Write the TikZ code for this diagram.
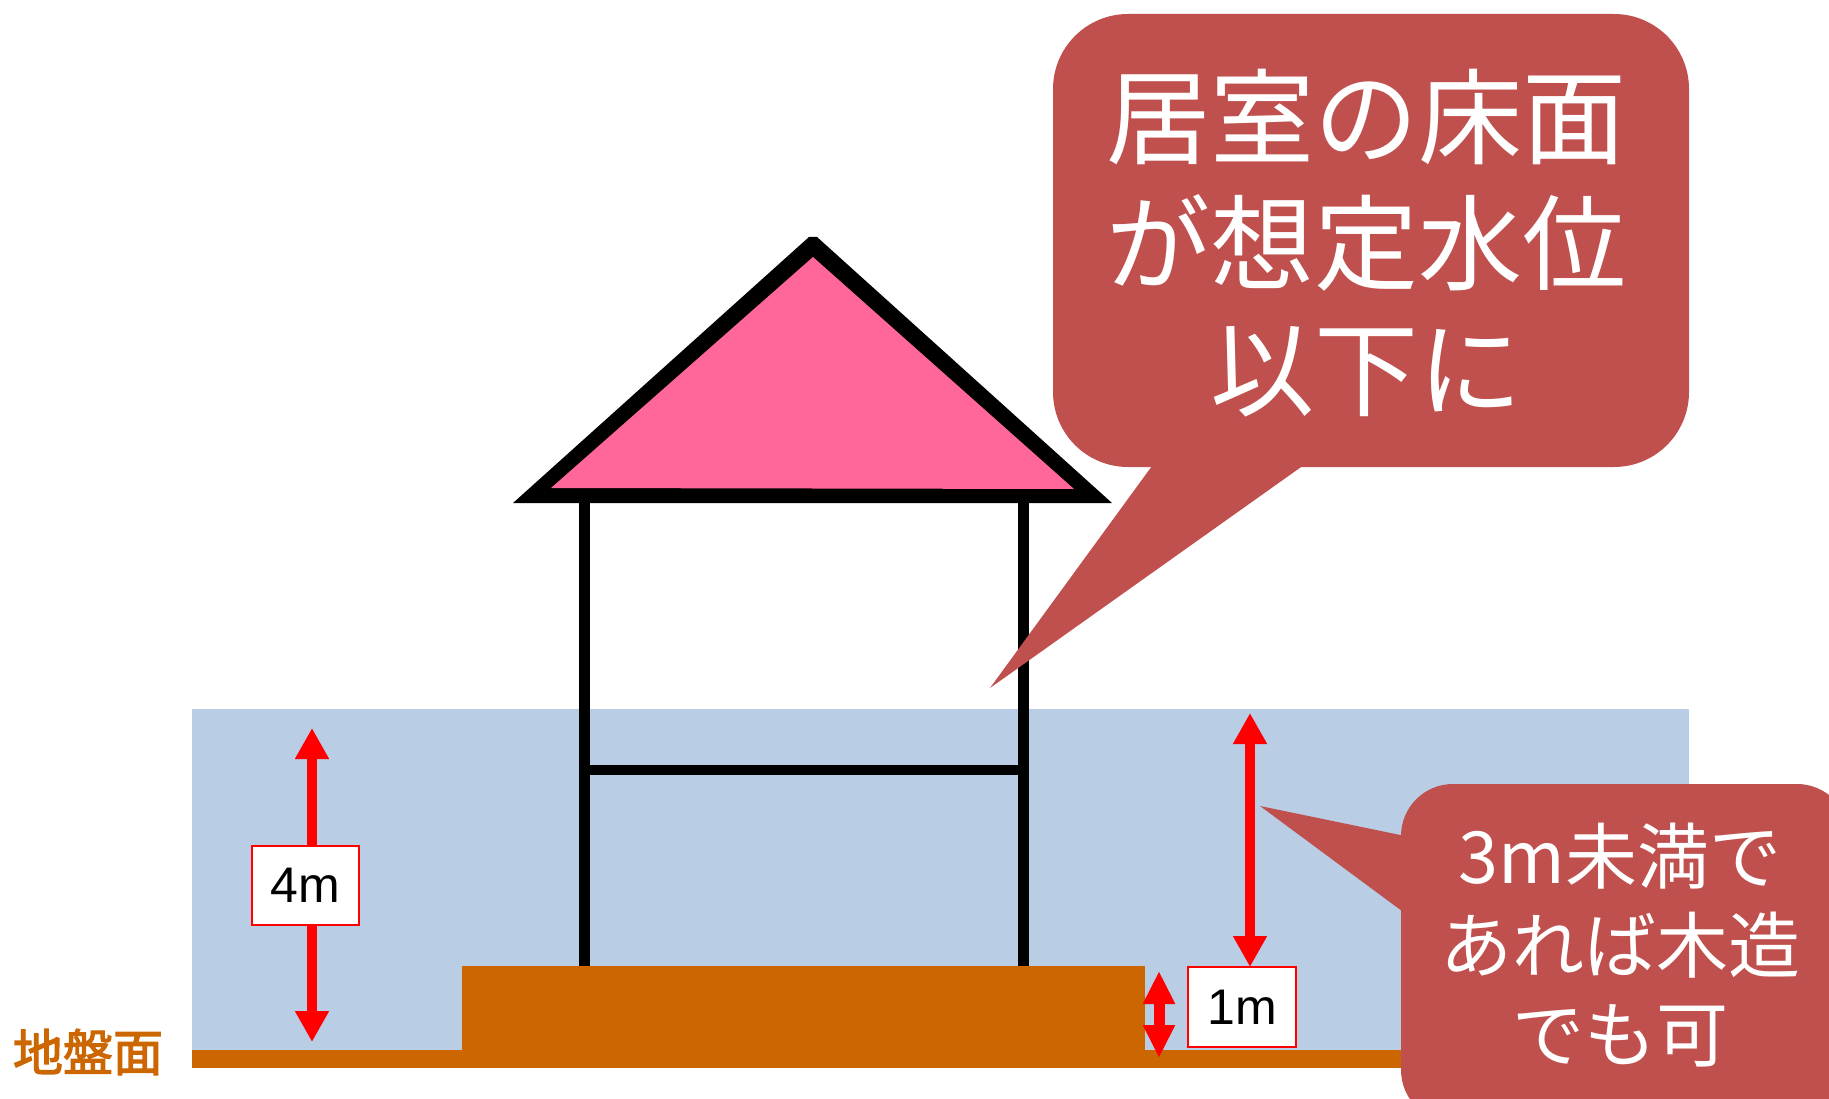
\documentclass[tikz,border=0pt]{standalone}
\usepackage{fontspec}
\setmainfont{Liberation Sans}
\newfontfamily\jpfont{Noto Sans CJK JP}
\newfontfamily\jpbold[FakeBold=2.5]{Noto Sans CJK JP}
\usetikzlibrary{arrows.meta}

\definecolor{water}{RGB}{185,205,229}
\definecolor{earth}{RGB}{204,102,0}
\definecolor{roofpink}{RGB}{255,102,153}
\definecolor{notered}{RGB}{192,80,77}

\begin{document}
\begin{tikzpicture}[x=1pt,y=-1pt,
  frame/.style={draw=black, line width=11pt},
  beam/.style={draw=black, line width=10pt},
  dimline/.style={draw=red, line width=10pt},
  tipA/.tip={Triangle[width=32pt,length=31pt]},
  tipB/.tip={Triangle[width=30pt,length=33pt]},
  dimbox/.style={draw=red, line width=2.5pt, fill=white, inner sep=0pt,
    font=\fontsize{50}{55}\selectfont},
  notetext/.style={text=white, align=center, inner sep=0pt},
  notefill/.style={fill=notered}]

\useasboundingbox (0,0) rectangle (1829,1099);
\clip (0,0) rectangle (1829,1099);

% water level band and ground
\fill[water] (192,709) rectangle (1689,1051);
\fill[earth] (192,1050) rectangle (1689,1068);
% raised foundation
\fill[earth] (462,966) rectangle (1145,1051);

% house frame
\coordinate (postLtop) at (584,495);
\coordinate (postLbot) at (584,966);
\coordinate (postRtop) at (1023,495);
\coordinate (postRbot) at (1023,966);
\coordinate (beamL) at (584,770);
\coordinate (beamR) at (1023,770);
\draw[frame] (postLtop) -- (postLbot);
\draw[frame] (postRtop) -- (postRbot);
\draw[beam] (beamL) -- (beamR);

% roof
\fill[black] (809,237) -- (817,237) -- (1112,503) -- (513,503) -- cycle;
\fill[roofpink] (813,257) -- (1074,489) -- (551,488) -- cycle;

% 4m dimension
\node[dimbox, minimum width=107pt, minimum height=79pt] (d4) at (305.5,885.5) {4m};
\coordinate (d4top) at (312,728);
\coordinate (d4bot) at (312,1042);
\draw[dimline, -tipA] (d4top |- d4.north) -- (d4top);
\draw[dimline, -tipA] (d4bot |- d4.south) -- (d4bot);

% height above the foundation
\coordinate (h3top) at (1250,713);
\coordinate (h3bot) at (1250,967);
\draw[dimline, tipA-tipA] (h3top) -- (h3bot);

% 1m dimension
\coordinate (f1top) at (1159,971);
\coordinate (f1bot) at (1159,1058);
\draw[dimline, line width=11pt, tipB-tipB] (f1top) -- (f1bot);
\node[dimbox, minimum width=108pt, minimum height=80pt] (d1) at (1242,1007) {1m};

% ground level label
\node[text=earth, font=\jpbold\fontsize{50}{54}\selectfont, inner sep=0pt] (gl) at (88,1052) {地盤面};

% callout: floor level
\fill[notefill, rounded corners=75pt] (1053,14) rectangle (1689,467);
\fill[notefill] (1160,455) -- (990,688) -- (1318,455) -- cycle;
\node[notetext, font=\jpfont\fontsize{104}{126}\selectfont] (msg1) at (1366,243)
  {居室の床面\\が想定水位\\以下に};

% callout: timber construction
\fill[notefill, rounded corners=52pt] (1401,784) rectangle (1849,1122);
\fill[notefill] (1410,837) -- (1260,806) -- (1410,917) -- cycle;
\node[notetext, font=\jpfont\fontsize{72}{89}\selectfont] (msg2) at (1620,945)
  {3m未満で\\あれば木造\\でも可};

\end{tikzpicture}
\end{document}
